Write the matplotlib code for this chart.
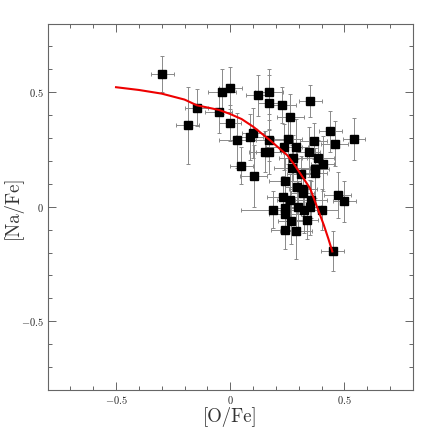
import numpy as np
import matplotlib
matplotlib.use('Agg')
import matplotlib.pyplot as plt
from matplotlib.ticker import MultipleLocator, FixedLocator, FuncFormatter

# Measured abundances, [O/Fe] and [Na/Fe], with their errors.
o_fe = np.array([-0.298, -0.146, -0.186, -0.036, 0.000, -0.051, -0.001, 0.031,
                 0.085, 0.100, 0.048, 0.102, 0.121, 0.170, 0.170, 0.227,
                 0.351, 0.263, 0.169, 0.253, 0.235, 0.289, 0.152, 0.172,
                 0.366, 0.439, 0.458, 0.542, 0.343, 0.275, 0.384, 0.405,
                 0.270, 0.371, 0.373, 0.309, 0.242, 0.291, 0.318, 0.470,
                 0.229, 0.264, 0.318, 0.352, 0.499, 0.186, 0.241, 0.241,
                 0.297, 0.321, 0.349, 0.402, 0.268, 0.336, 0.238, 0.290,
                 0.449])
na_fe = np.array([0.579, 0.433, 0.355, 0.503, 0.519, 0.413, 0.366, 0.290,
                  0.303, 0.322, 0.180, 0.134, 0.487, 0.503, 0.455, 0.445,
                  0.461, 0.393, 0.290, 0.298, 0.262, 0.263, 0.241, 0.241,
                  0.287, 0.330, 0.276, 0.296, 0.238, 0.214, 0.213, 0.188,
                  0.171, 0.167, 0.148, 0.141, 0.114, 0.088, 0.079, 0.052,
                  0.044, 0.031, 0.058, 0.031, 0.024, -0.012, -0.004, -0.031,
                  0.001, -0.013, -0.002, -0.012, -0.063, -0.059, -0.103, -0.106,
                  -0.194])
o_err = np.array([0.05, 0.05, 0.05, 0.06, 0.05, 0.06, 0.05, 0.08,
                  0.06, 0.05, 0.05, 0.06, 0.05, 0.06, 0.05, 0.06,
                  0.05, 0.06, 0.07, 0.06, 0.08, 0.05, 0.07, 0.06,
                  0.06, 0.05, 0.06, 0.05, 0.05, 0.06, 0.07, 0.05,
                  0.08, 0.06, 0.05, 0.06, 0.07, 0.05, 0.06, 0.06,
                  0.07, 0.06, 0.05, 0.07, 0.05, 0.14, 0.06, 0.07,
                  0.05, 0.06, 0.05, 0.07, 0.06, 0.05, 0.06, 0.07,
                  0.05])
na_err = np.array([0.08, 0.08, 0.17, 0.10, 0.09, 0.09, 0.08, 0.12,
                   0.10, 0.11, 0.08, 0.135, 0.09, 0.10, 0.12, 0.08,
                   0.07, 0.10, 0.09, 0.11, 0.10, 0.12, 0.09, 0.10,
                   0.08, 0.09, 0.10, 0.09, 0.11, 0.10, 0.08, 0.12,
                   0.10, 0.09, 0.11, 0.08, 0.10, 0.12, 0.09, 0.10,
                   0.09, 0.11, 0.10, 0.08, 0.09, 0.08, 0.10, 0.09,
                   0.11, 0.10, 0.12, 0.09, 0.10, 0.08, 0.08, 0.12,
                   0.087])

# Dilution curve.
curve_o = np.array([-0.50, -0.40, -0.30, -0.20, -0.146, -0.05, 0.00, 0.05,
                    0.10, 0.175, 0.20, 0.25, 0.28, 0.307, 0.33, 0.35,
                    0.38, 0.395, 0.41, 0.43, 0.447])
curve_na = np.array([0.522, 0.510, 0.494, 0.468, 0.443, 0.423, 0.405, 0.383,
                     0.350, 0.290, 0.268, 0.225, 0.185, 0.145, 0.110, 0.080,
                     0.000, -0.040, -0.080, -0.140, -0.195])

plt.rcParams['mathtext.fontset'] = 'cm'
plt.rcParams['font.family'] = 'serif'
plt.rcParams['font.serif'] = ['cmr10', 'DejaVu Serif']
plt.rcParams['axes.formatter.use_mathtext'] = True

fig = plt.figure(figsize=(4.36, 4.36), dpi=100)
ax = fig.add_axes([0.109, 0.1055, 0.838, 0.8405])

ax.errorbar(o_fe, na_fe, xerr=o_err, yerr=na_err, fmt='none',
            ecolor='#8a8a8a', elinewidth=0.7, capsize=1.6, capthick=0.7,
            zorder=1)
ax.plot(o_fe, na_fe, 's', color='black', markersize=5.6, zorder=2)
ax.plot(curve_o, curve_na, '-', color='#ee0000', linewidth=1.5, zorder=3)

ax.set_xlim(-0.8, 0.8)
ax.set_ylim(-0.8, 0.8)

fmt = FuncFormatter(lambda v, p: '$0$' if abs(v) < 1e-9 else
                    ('$%g$' % v))
for axis in (ax.xaxis, ax.yaxis):
    axis.set_major_locator(FixedLocator([-0.5, 0, 0.5]))
    axis.set_minor_locator(MultipleLocator(0.1))
    axis.set_major_formatter(fmt)

ax.tick_params(which='both', direction='in', top=True, right=True,
               color='#666666', width=0.7, labelsize=7.5, labelcolor='#222222')
ax.tick_params(which='major', length=5.5, pad=3)
ax.tick_params(which='minor', length=3)
for s in ax.spines.values():
    s.set_color('#666666')
    s.set_linewidth(0.8)

ax.set_xlabel('[O/Fe]', fontsize=13.5, color='#333333')
ax.set_ylabel('[Na/Fe]', fontsize=13.5, color='#333333')
ax.xaxis.set_label_coords(0.5, -0.073, transform=ax.transAxes)
ax.yaxis.set_label_coords(-0.094, 0.5, transform=ax.transAxes)
ax.xaxis.label.set_va('center')
ax.yaxis.label.set_va('center')

fig.savefig('out.png', dpi=100)
